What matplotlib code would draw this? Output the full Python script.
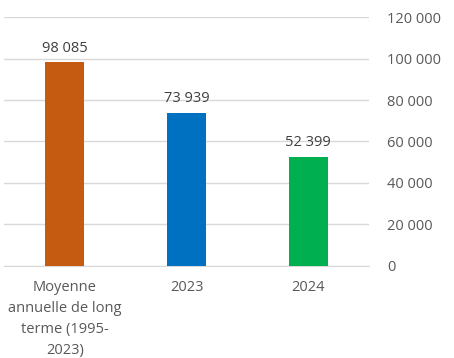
import matplotlib
matplotlib.use("Agg")
import matplotlib.pyplot as plt
from matplotlib.ticker import FuncFormatter

categories = ["Moyenne\nannuelle de long\nterme (1995-\n2023)", "2023", "2024"]
values = [98085, 73939, 52399]
colors = ["#C55A11", "#0070C0", "#00B050"]
yticks = [0, 20000, 40000, 60000, 80000, 100000, 120000]

plt.rcParams['font.family'] = ['Open Sans', 'DejaVu Sans']
txt = "#595959"

def fmt(v, pos=None):
    return f"{int(v):,}".replace(",", " ")

fig = plt.figure(figsize=(4.54, 3.58), dpi=100)
ax = fig.add_axes([0.009, 0.257, 0.804, 0.6955])

x = range(len(values))
ax.bar(x, values, width=0.32, color=colors, zorder=3)
for xi, v in zip(x, values):
    ax.annotate(fmt(v), (xi, v), xytext=(0, 5), textcoords="offset points",
                ha="center", va="bottom", fontsize=10.5, color="#404040")

ax.set_xlim(-0.5, 2.5)
ax.set_ylim(0, 120000)
ax.set_yticks(yticks)
ax.yaxis.set_major_formatter(FuncFormatter(fmt))
ax.yaxis.tick_right()
ax.tick_params(axis="y", length=0, pad=13, labelsize=10.5, labelcolor=txt)
fig.canvas.draw()
for t in ax.yaxis.get_major_ticks():
    t.label2.set_horizontalalignment("left")
ax.set_xticks(list(x))
ax.set_xticklabels(categories, linespacing=1.55)
ax.tick_params(axis="x", length=0, pad=10, labelsize=10.5, labelcolor=txt)

ax.grid(axis="y", color="#D9D9D9", linewidth=1, zorder=0)
for s in ["top", "right", "left"]:
    ax.spines[s].set_visible(False)
ax.spines["bottom"].set_color("#D9D9D9")

fig.savefig("out.png", dpi=100)
